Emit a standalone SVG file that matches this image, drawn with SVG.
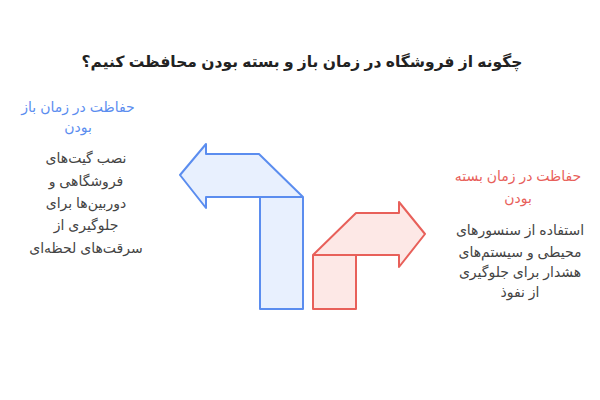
<svg xmlns="http://www.w3.org/2000/svg" width="600" height="400" viewBox="0 0 600 400">
<style>
text{font-family:"Liberation Sans","DejaVu Sans",sans-serif;text-anchor:middle;direction:rtl}
.title{font-size:15.5px;font-weight:bold;fill:#222}
.h{font-size:14px}
.b{font-size:14px;fill:#444}
.blue{fill:#e8f0fe;stroke:#5b8def;stroke-width:2;stroke-linejoin:round}
.red{fill:#fde8e6;stroke:#e8605a;stroke-width:2;stroke-linejoin:round}
</style>
<rect width="600" height="400" fill="#fff"/>
<text class="title" x="302" y="67">چگونه از فروشگاه در زمان باز و بسته بودن محافظت کنیم؟</text>
<g id="connectors">
<g id="blue-arrow">
<path class="blue" d="M180,175 L206,144 L206,154 L259,154 L303,197 L303,309 L260,309 L260,197 L206,197 L206,208 Z"/>
<line x1="260" y1="197" x2="303" y2="197" stroke="#5b8def" stroke-width="2"/>
</g>
<g id="red-arrow">
<path class="red" d="M313,309 L313,255 L356,213 L399,213 L399,202 L425,234 L399,267 L399,255 L356,255 L356,309 Z"/>
<line x1="313" y1="255" x2="356" y2="255" stroke="#e8605a" stroke-width="2"/>
</g>
</g>
<g id="node-open">
<text class="h" x="78" y="112" fill="#5b8def">حفاظت در زمان باز</text>
<text class="h" x="78" y="132" fill="#5b8def">بودن</text>
<text class="b" x="86" y="163">نصب گیت‌های</text>
<text class="b" x="86" y="186">فروشگاهی و</text>
<text class="b" x="86" y="208">دوربین‌ها برای</text>
<text class="b" x="86" y="230">جلوگیری از</text>
<text class="b" x="86" y="253">سرقت‌های لحظه‌ای</text>
</g>
<g id="node-closed">
<text class="h" x="518" y="181" fill="#e8605a">حفاظت در زمان بسته</text>
<text class="h" x="518" y="203" fill="#e8605a">بودن</text>
<text class="b" x="520" y="235">استفاده از سنسورهای</text>
<text class="b" x="520" y="257">محیطی و سیستم‌های</text>
<text class="b" x="520" y="277">هشدار برای جلوگیری</text>
<text class="b" x="520" y="297">از نفوذ</text>
</g>
</svg>
